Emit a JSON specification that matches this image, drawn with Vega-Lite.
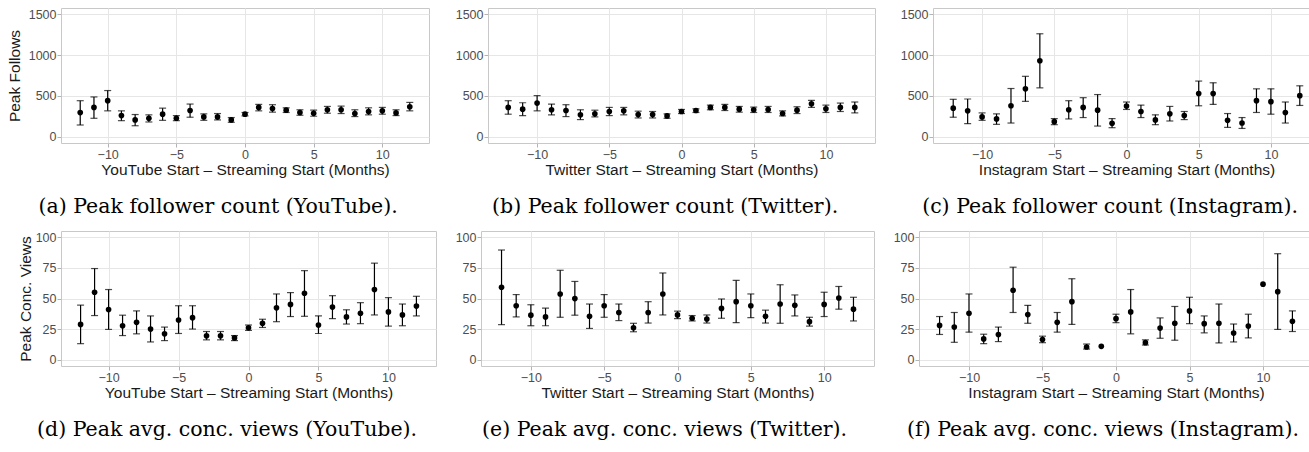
{
 "$schema": "https://vega.github.io/schema/vega-lite/v6.json",
 "padding": {"left": 6, "top": 7, "right": 0, "bottom": 0},
 "background": "white",
 "data": {"values": [
  {"p":"a","m":-12,"v":297,"lo":145,"hi":442},{"p":"a","m":-11,"v":360,"lo":227,"hi":488},{"p":"a","m":-10,"v":442,"lo":318,"hi":566},{"p":"a","m":-9,"v":260,"lo":198,"hi":318},{"p":"a","m":-8,"v":207,"lo":136,"hi":273},{"p":"a","m":-7,"v":227,"lo":182,"hi":269},{"p":"a","m":-6,"v":277,"lo":202,"hi":351},{"p":"a","m":-5,"v":227,"lo":198,"hi":260},{"p":"a","m":-4,"v":322,"lo":240,"hi":401},{"p":"a","m":-3,"v":244,"lo":202,"hi":281},{"p":"a","m":-2,"v":244,"lo":207,"hi":285},{"p":"a","m":-1,"v":207,"lo":178,"hi":236},{"p":"a","m":0,"v":277,"lo":256,"hi":298},{"p":"a","m":1,"v":360,"lo":318,"hi":397},{"p":"a","m":2,"v":347,"lo":302,"hi":393},{"p":"a","m":3,"v":326,"lo":298,"hi":355},{"p":"a","m":4,"v":298,"lo":264,"hi":331},{"p":"a","m":5,"v":289,"lo":252,"hi":326},{"p":"a","m":6,"v":331,"lo":289,"hi":372},{"p":"a","m":7,"v":331,"lo":285,"hi":376},{"p":"a","m":8,"v":285,"lo":248,"hi":331},{"p":"a","m":9,"v":310,"lo":269,"hi":355},{"p":"a","m":10,"v":318,"lo":277,"hi":360},{"p":"a","m":11,"v":293,"lo":260,"hi":331},{"p":"a","m":12,"v":368,"lo":318,"hi":421},
  {"p":"b","m":-12,"v":360,"lo":277,"hi":442},{"p":"b","m":-11,"v":339,"lo":260,"hi":417},{"p":"b","m":-10,"v":413,"lo":318,"hi":504},{"p":"b","m":-9,"v":331,"lo":269,"hi":401},{"p":"b","m":-8,"v":322,"lo":248,"hi":393},{"p":"b","m":-7,"v":269,"lo":211,"hi":331},{"p":"b","m":-6,"v":281,"lo":244,"hi":326},{"p":"b","m":-5,"v":310,"lo":260,"hi":360},{"p":"b","m":-4,"v":318,"lo":269,"hi":360},{"p":"b","m":-3,"v":273,"lo":231,"hi":314},{"p":"b","m":-2,"v":273,"lo":231,"hi":310},{"p":"b","m":-1,"v":256,"lo":227,"hi":281},{"p":"b","m":0,"v":310,"lo":285,"hi":335},{"p":"b","m":1,"v":322,"lo":298,"hi":343},{"p":"b","m":2,"v":360,"lo":331,"hi":388},{"p":"b","m":3,"v":360,"lo":322,"hi":397},{"p":"b","m":4,"v":339,"lo":302,"hi":372},{"p":"b","m":5,"v":331,"lo":298,"hi":364},{"p":"b","m":6,"v":335,"lo":298,"hi":372},{"p":"b","m":7,"v":285,"lo":256,"hi":318},{"p":"b","m":8,"v":326,"lo":285,"hi":368},{"p":"b","m":9,"v":405,"lo":360,"hi":446},{"p":"b","m":10,"v":343,"lo":298,"hi":388},{"p":"b","m":11,"v":360,"lo":310,"hi":413},{"p":"b","m":12,"v":360,"lo":293,"hi":426},
  {"p":"c","m":-12,"v":351,"lo":240,"hi":459},{"p":"c","m":-11,"v":318,"lo":161,"hi":463},{"p":"c","m":-10,"v":244,"lo":202,"hi":293},{"p":"c","m":-9,"v":219,"lo":153,"hi":281},{"p":"c","m":-8,"v":380,"lo":169,"hi":591},{"p":"c","m":-7,"v":587,"lo":434,"hi":740},{"p":"c","m":-6,"v":930,"lo":599,"hi":1260},{"p":"c","m":-5,"v":186,"lo":149,"hi":223},{"p":"c","m":-4,"v":331,"lo":219,"hi":442},{"p":"c","m":-3,"v":360,"lo":236,"hi":479},{"p":"c","m":-2,"v":326,"lo":132,"hi":517},{"p":"c","m":-1,"v":165,"lo":112,"hi":223},{"p":"c","m":0,"v":376,"lo":335,"hi":426},{"p":"c","m":1,"v":310,"lo":236,"hi":388},{"p":"c","m":2,"v":207,"lo":149,"hi":269},{"p":"c","m":3,"v":281,"lo":194,"hi":372},{"p":"c","m":4,"v":260,"lo":211,"hi":310},{"p":"c","m":5,"v":529,"lo":380,"hi":682},{"p":"c","m":6,"v":529,"lo":397,"hi":661},{"p":"c","m":7,"v":202,"lo":116,"hi":285},{"p":"c","m":8,"v":169,"lo":103,"hi":236},{"p":"c","m":9,"v":442,"lo":298,"hi":587},{"p":"c","m":10,"v":430,"lo":277,"hi":587},{"p":"c","m":11,"v":298,"lo":169,"hi":426},{"p":"c","m":12,"v":504,"lo":384,"hi":624},
  {"p":"d","m":-12,"v":28.9,"lo":13.2,"hi":44.6},{"p":"d","m":-11,"v":55.1,"lo":36.1,"hi":74.4},{"p":"d","m":-10,"v":41.0,"lo":24.8,"hi":57.3},{"p":"d","m":-9,"v":27.8,"lo":19.8,"hi":36.4},{"p":"d","m":-8,"v":30.6,"lo":21.2,"hi":39.9},{"p":"d","m":-7,"v":25.1,"lo":14.6,"hi":35.8},{"p":"d","m":-6,"v":21.2,"lo":15.7,"hi":26.7},{"p":"d","m":-5,"v":32.5,"lo":21.5,"hi":44.1},{"p":"d","m":-4,"v":34.4,"lo":25.1,"hi":44.1},{"p":"d","m":-3,"v":19.6,"lo":16.3,"hi":23.1},{"p":"d","m":-2,"v":19.6,"lo":16.3,"hi":23.1},{"p":"d","m":-1,"v":17.9,"lo":15.7,"hi":19.8},{"p":"d","m":0,"v":26.2,"lo":24.0,"hi":28.4},{"p":"d","m":1,"v":29.8,"lo":26.4,"hi":33.1},{"p":"d","m":2,"v":42.4,"lo":31.1,"hi":53.7},{"p":"d","m":3,"v":45.2,"lo":35.3,"hi":54.8},{"p":"d","m":4,"v":54.3,"lo":35.5,"hi":72.7},{"p":"d","m":5,"v":28.4,"lo":21.5,"hi":35.8},{"p":"d","m":6,"v":43.0,"lo":33.6,"hi":52.3},{"p":"d","m":7,"v":35.0,"lo":29.2,"hi":40.8},{"p":"d","m":8,"v":38.0,"lo":29.5,"hi":46.6},{"p":"d","m":9,"v":57.3,"lo":36.6,"hi":78.8},{"p":"d","m":10,"v":39.1,"lo":27.5,"hi":50.7},{"p":"d","m":11,"v":36.6,"lo":27.8,"hi":45.5},{"p":"d","m":12,"v":43.8,"lo":35.8,"hi":51.8},
  {"p":"e","m":-12,"v":59.2,"lo":28.7,"hi":89.5},{"p":"e","m":-11,"v":44.1,"lo":35.0,"hi":53.2},{"p":"e","m":-10,"v":36.4,"lo":27.8,"hi":44.9},{"p":"e","m":-9,"v":35.0,"lo":27.8,"hi":42.1},{"p":"e","m":-8,"v":53.7,"lo":34.7,"hi":73.0},{"p":"e","m":-7,"v":49.9,"lo":36.4,"hi":63.9},{"p":"e","m":-6,"v":35.5,"lo":25.6,"hi":45.5},{"p":"e","m":-5,"v":44.1,"lo":34.7,"hi":53.2},{"p":"e","m":-4,"v":38.6,"lo":32.0,"hi":45.5},{"p":"e","m":-3,"v":26.2,"lo":22.9,"hi":29.8},{"p":"e","m":-2,"v":38.6,"lo":30.0,"hi":47.4},{"p":"e","m":-1,"v":53.7,"lo":36.6,"hi":70.8},{"p":"e","m":0,"v":36.6,"lo":33.6,"hi":39.7},{"p":"e","m":1,"v":33.9,"lo":31.7,"hi":36.1},{"p":"e","m":2,"v":33.3,"lo":30.0,"hi":36.6},{"p":"e","m":3,"v":41.9,"lo":33.9,"hi":49.6},{"p":"e","m":4,"v":47.4,"lo":30.3,"hi":64.7},{"p":"e","m":5,"v":44.1,"lo":34.4,"hi":53.7},{"p":"e","m":6,"v":35.5,"lo":30.0,"hi":40.5},{"p":"e","m":7,"v":45.5,"lo":29.8,"hi":61.2},{"p":"e","m":8,"v":44.4,"lo":35.8,"hi":52.9},{"p":"e","m":9,"v":31.1,"lo":27.5,"hi":34.7},{"p":"e","m":10,"v":45.2,"lo":35.3,"hi":55.1},{"p":"e","m":11,"v":50.4,"lo":41.3,"hi":59.8},{"p":"e","m":12,"v":41.3,"lo":31.7,"hi":51.0},
  {"p":"f","m":-12,"v":28.1,"lo":20.7,"hi":35.3},{"p":"f","m":-11,"v":26.7,"lo":14.3,"hi":38.6},{"p":"f","m":-10,"v":38.0,"lo":22.6,"hi":53.7},{"p":"f","m":-9,"v":17.1,"lo":13.2,"hi":20.9},{"p":"f","m":-8,"v":20.7,"lo":14.9,"hi":26.7},{"p":"f","m":-7,"v":56.7,"lo":38.6,"hi":75.5},{"p":"f","m":-6,"v":36.9,"lo":29.8,"hi":44.4},{"p":"f","m":-5,"v":16.5,"lo":14.0,"hi":19.3},{"p":"f","m":-4,"v":30.6,"lo":22.6,"hi":38.6},{"p":"f","m":-3,"v":47.4,"lo":28.9,"hi":66.1},{"p":"f","m":-2,"v":10.5,"lo":8.8,"hi":12.9},{"p":"f","m":-1,"v":11.0,"lo":null,"hi":null},{"p":"f","m":0,"v":33.6,"lo":30.3,"hi":37.2},{"p":"f","m":1,"v":39.1,"lo":21.2,"hi":57.3},{"p":"f","m":2,"v":14.0,"lo":12.1,"hi":16.3},{"p":"f","m":3,"v":25.9,"lo":17.6,"hi":34.2},{"p":"f","m":4,"v":29.8,"lo":16.0,"hi":43.5},{"p":"f","m":5,"v":39.9,"lo":29.5,"hi":51.0},{"p":"f","m":6,"v":29.5,"lo":22.0,"hi":35.8},{"p":"f","m":7,"v":29.8,"lo":13.8,"hi":45.5},{"p":"f","m":8,"v":21.8,"lo":14.6,"hi":29.2},{"p":"f","m":9,"v":27.5,"lo":17.9,"hi":37.2},{"p":"f","m":10,"v":61.7,"lo":null,"hi":null},{"p":"f","m":11,"v":55.6,"lo":24.8,"hi":86.5},{"p":"f","m":12,"v":31.4,"lo":23.1,"hi":39.9}
 ]},
 "config": {
  "view": {"stroke": "#C8C8C8", "strokeWidth": 1},
  "axis": {"labelFont": "Liberation Sans", "labelFontSize": 12.5, "labelColor": "#4D4D4D", "titleFont": "Liberation Sans", "titleFontSize": 15.5, "titleFontWeight": "normal", "titleColor": "#1A1A1A", "gridColor": "#E6E6E6", "gridWidth": 1, "tickColor": "#B3B3B3", "tickSize": 4, "tickWidth": 1, "domain": false, "labelPadding": 1, "minExtent": 0, "format": "d"},
  "axisX": {"titlePadding": 2, "minExtent": 0},
  "axisY": {"titlePadding": 6, "minExtent": 0},
  "axisLeft": {"minExtent": 0},
  "axisRight": {"minExtent": 0},
  "title": {"orient": "bottom", "anchor": "middle", "frame": "bounds", "font": "DejaVu Serif", "fontSize": 20.5, "fontWeight": "normal", "color": "#000000", "offset": 19}
 },
 "columns": 3,
 "align": {"row": "each", "column": "none"},
 "bounds": "full",
 "spacing": {"row": 12, "column": 17},
 "concat": [
   {"width": 368, "height": 135, "transform": [{"filter": "datum.p == 'a'"}],
    "title": {"text": "(a) Peak follower count (YouTube)."},
    "resolve": {"axis": {"x": "independent", "y": "independent"}},
    "layer": [
     {"mark": {"type": "errorbar", "ticks": {"size": 7}, "color": "black", "thickness": 1.2},
      "encoding": {
       "x": {"field": "m", "type": "quantitative", "scale": {"domain": [-13.4, 13.4], "nice": false, "zero": false}, "axis": {"values": [-10, -5, 0, 5, 10], "title": "YouTube Start – Streaming Start (Months)"}},
       "y": {"field": "lo", "type": "quantitative", "scale": {"domain": [-75, 1575], "nice": false, "zero": false}, "axis": {"values": [0, 500, 1000, 1500], "title": "Peak Follows", "minExtent": 0}},
       "y2": {"field": "hi"}}},
     {"mark": {"type": "point", "filled": true, "color": "black", "size": 32, "opacity": 1},
      "encoding": {
       "x": {"field": "m", "type": "quantitative", "axis": {"orient": "top", "values": [-12.5, -7.5, -2.5, 2.5, 7.5, 12.5], "labels": false, "ticks": false, "title": null, "gridColor": "#F2F2F2"}},
       "y": {"field": "v", "type": "quantitative", "axis": {"orient": "right", "values": [250, 750, 1250], "labels": false, "ticks": false, "title": null, "gridColor": "#F2F2F2", "minExtent": 0}}}}
    ]},
   {"width": 387, "height": 135, "transform": [{"filter": "datum.p == 'b'"}],
    "title": {"text": "(b) Peak follower count (Twitter)."},
    "resolve": {"axis": {"x": "independent", "y": "independent"}},
    "layer": [
     {"mark": {"type": "errorbar", "ticks": {"size": 7}, "color": "black", "thickness": 1.2},
      "encoding": {
       "x": {"field": "m", "type": "quantitative", "scale": {"domain": [-13.4, 13.4], "nice": false, "zero": false}, "axis": {"values": [-10, -5, 0, 5, 10], "title": "Twitter Start – Streaming Start (Months)"}},
       "y": {"field": "lo", "type": "quantitative", "scale": {"domain": [-75, 1575], "nice": false, "zero": false}, "axis": {"values": [0, 500, 1000, 1500], "title": null, "minExtent": 0}},
       "y2": {"field": "hi"}}},
     {"mark": {"type": "point", "filled": true, "color": "black", "size": 32, "opacity": 1},
      "encoding": {
       "x": {"field": "m", "type": "quantitative", "axis": {"orient": "top", "values": [-12.5, -7.5, -2.5, 2.5, 7.5, 12.5], "labels": false, "ticks": false, "title": null, "gridColor": "#F2F2F2"}},
       "y": {"field": "v", "type": "quantitative", "axis": {"orient": "right", "values": [250, 750, 1250], "labels": false, "ticks": false, "title": null, "gridColor": "#F2F2F2", "minExtent": 0}}}}
    ]},
   {"width": 387, "height": 135, "transform": [{"filter": "datum.p == 'c'"}],
    "title": {"text": "(c) Peak follower count (Instagram)."},
    "resolve": {"axis": {"x": "independent", "y": "independent"}},
    "layer": [
     {"mark": {"type": "errorbar", "ticks": {"size": 7}, "color": "black", "thickness": 1.2},
      "encoding": {
       "x": {"field": "m", "type": "quantitative", "scale": {"domain": [-13.4, 13.4], "nice": false, "zero": false}, "axis": {"values": [-10, -5, 0, 5, 10], "title": "Instagram Start – Streaming Start (Months)"}},
       "y": {"field": "lo", "type": "quantitative", "scale": {"domain": [-75, 1575], "nice": false, "zero": false}, "axis": {"values": [0, 500, 1000, 1500], "title": null, "minExtent": 0}},
       "y2": {"field": "hi"}}},
     {"mark": {"type": "point", "filled": true, "color": "black", "size": 32, "opacity": 1},
      "encoding": {
       "x": {"field": "m", "type": "quantitative", "axis": {"orient": "top", "values": [-12.5, -7.5, -2.5, 2.5, 7.5, 12.5], "labels": false, "ticks": false, "title": null, "gridColor": "#F2F2F2"}},
       "y": {"field": "v", "type": "quantitative", "axis": {"orient": "right", "values": [250, 750, 1250], "labels": false, "ticks": false, "title": null, "gridColor": "#F2F2F2", "minExtent": 0}}}}
    ]},
   {"width": 375, "height": 135, "transform": [{"filter": "datum.p == 'd'"}],
    "title": {"text": "(d) Peak avg. conc. views (YouTube)."},
    "resolve": {"axis": {"x": "independent", "y": "independent"}},
    "layer": [
     {"mark": {"type": "errorbar", "ticks": {"size": 7}, "color": "black", "thickness": 1.2},
      "encoding": {
       "x": {"field": "m", "type": "quantitative", "scale": {"domain": [-13.4, 13.4], "nice": false, "zero": false}, "axis": {"values": [-10, -5, 0, 5, 10], "title": "YouTube Start – Streaming Start (Months)"}},
       "y": {"field": "lo", "type": "quantitative", "scale": {"domain": [-5, 105], "nice": false, "zero": false}, "axis": {"values": [0, 25, 50, 75, 100], "title": "Peak Conc. Views", "minExtent": 0, "titlePadding": 2}},
       "y2": {"field": "hi"}}},
     {"mark": {"type": "point", "filled": true, "color": "black", "size": 32, "opacity": 1},
      "encoding": {
       "x": {"field": "m", "type": "quantitative", "axis": {"orient": "top", "values": [-12.5, -7.5, -2.5, 2.5, 7.5, 12.5], "labels": false, "ticks": false, "title": null, "gridColor": "#F2F2F2"}},
       "y": {"field": "v", "type": "quantitative", "axis": {"orient": "right", "values": [12.5, 37.5, 62.5, 87.5], "labels": false, "ticks": false, "title": null, "gridColor": "#F2F2F2", "minExtent": 0}}}}
    ]},
   {"width": 393, "height": 135, "transform": [{"filter": "datum.p == 'e'"}],
    "title": {"text": "(e) Peak avg. conc. views (Twitter)."},
    "resolve": {"axis": {"x": "independent", "y": "independent"}},
    "layer": [
     {"mark": {"type": "errorbar", "ticks": {"size": 7}, "color": "black", "thickness": 1.2},
      "encoding": {
       "x": {"field": "m", "type": "quantitative", "scale": {"domain": [-13.4, 13.4], "nice": false, "zero": false}, "axis": {"values": [-10, -5, 0, 5, 10], "title": "Twitter Start – Streaming Start (Months)"}},
       "y": {"field": "lo", "type": "quantitative", "scale": {"domain": [-5, 105], "nice": false, "zero": false}, "axis": {"values": [0, 25, 50, 75, 100], "title": null, "minExtent": 0}},
       "y2": {"field": "hi"}}},
     {"mark": {"type": "point", "filled": true, "color": "black", "size": 32, "opacity": 1},
      "encoding": {
       "x": {"field": "m", "type": "quantitative", "axis": {"orient": "top", "values": [-12.5, -7.5, -2.5, 2.5, 7.5, 12.5], "labels": false, "ticks": false, "title": null, "gridColor": "#F2F2F2"}},
       "y": {"field": "v", "type": "quantitative", "axis": {"orient": "right", "values": [12.5, 37.5, 62.5, 87.5], "labels": false, "ticks": false, "title": null, "gridColor": "#F2F2F2", "minExtent": 0}}}}
    ]},
   {"width": 394, "height": 135, "transform": [{"filter": "datum.p == 'f'"}],
    "title": {"text": "(f) Peak avg. conc. views (Instagram)."},
    "resolve": {"axis": {"x": "independent", "y": "independent"}},
    "layer": [
     {"mark": {"type": "errorbar", "ticks": {"size": 7}, "color": "black", "thickness": 1.2},
      "encoding": {
       "x": {"field": "m", "type": "quantitative", "scale": {"domain": [-13.4, 13.4], "nice": false, "zero": false}, "axis": {"values": [-10, -5, 0, 5, 10], "title": "Instagram Start – Streaming Start (Months)"}},
       "y": {"field": "lo", "type": "quantitative", "scale": {"domain": [-5, 105], "nice": false, "zero": false}, "axis": {"values": [0, 25, 50, 75, 100], "title": null, "minExtent": 0}},
       "y2": {"field": "hi"}}},
     {"mark": {"type": "point", "filled": true, "color": "black", "size": 32, "opacity": 1},
      "encoding": {
       "x": {"field": "m", "type": "quantitative", "axis": {"orient": "top", "values": [-12.5, -7.5, -2.5, 2.5, 7.5, 12.5], "labels": false, "ticks": false, "title": null, "gridColor": "#F2F2F2"}},
       "y": {"field": "v", "type": "quantitative", "axis": {"orient": "right", "values": [12.5, 37.5, 62.5, 87.5], "labels": false, "ticks": false, "title": null, "gridColor": "#F2F2F2", "minExtent": 0}}}}
    ]}
 ]
}
